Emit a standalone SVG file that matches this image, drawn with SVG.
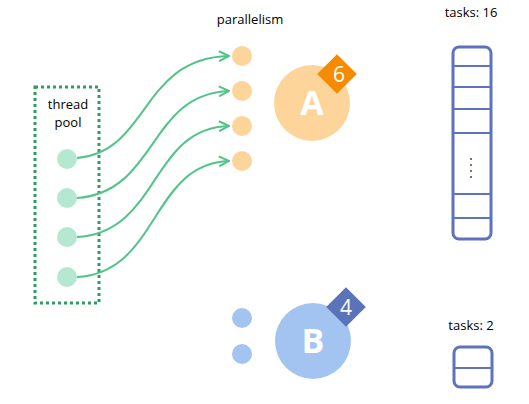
<svg xmlns="http://www.w3.org/2000/svg" width="529" height="404" viewBox="0 0 529 404">
<style>
.lbl{font-family:"Open Sans","Noto Sans",sans-serif;font-size:13px;fill:#000;text-anchor:middle}
.th{fill:#b5e8d0}
.par{fill:#fdd49a}
.parb{fill:#a3c4f0}
.conn{fill:none;stroke:#52c48a;stroke-width:2}
.big{font-family:"Open Sans","Noto Sans",sans-serif;font-weight:bold;font-size:34px;fill:#fff;text-anchor:middle}
.num{font-family:"Open Sans","Noto Sans",sans-serif;font-size:21px;fill:#fff;text-anchor:middle}
.box{fill:#fff;stroke:#5f72bd;stroke-width:3}
.row{stroke:#5f72bd;stroke-width:2}
</style>
<defs>
<marker id="arr" viewBox="0 0 12 12" refX="11" refY="6" markerWidth="12" markerHeight="12" markerUnits="userSpaceOnUse" orient="auto">
<path d="M1,1 L11,6 L1,11" fill="none" stroke="#52c48a" stroke-width="2"/>
</marker>
</defs>
<g id="pool">
<rect x="35" y="87" width="64" height="216" fill="none" stroke="#2e9e60" stroke-width="3" stroke-dasharray="3,3"/>
<text class="lbl" x="68" y="109">thread</text>
<text class="lbl" x="68" y="127">pool</text>
</g>
<g id="t1"><circle class="th" cx="67" cy="159" r="10"/></g>
<g id="t2"><circle class="th" cx="67" cy="198" r="10"/></g>
<g id="t3"><circle class="th" cx="67" cy="237" r="10"/></g>
<g id="t4"><circle class="th" cx="67" cy="277" r="10"/></g>
<g id="parallelism"><text class="lbl" x="250" y="24">parallelism</text></g>
<g id="p1"><circle class="par" cx="242" cy="56" r="10"/></g>
<g id="p2"><circle class="par" cx="242" cy="91" r="10"/></g>
<g id="p3"><circle class="par" cx="242" cy="126" r="10"/></g>
<g id="p4"><circle class="par" cx="242" cy="161" r="10"/></g>
<g id="A">
<circle cx="312" cy="103" r="38" fill="#fdd49a"/>
<text class="big" x="312" y="115">A</text>
<rect x="323" y="60" width="28" height="28" fill="#f58b00" transform="rotate(45 337 74)"/>
<text class="num" x="339" y="82">6</text>
</g>
<g id="pb1"><circle class="parb" cx="242" cy="318" r="10"/></g>
<g id="pb2"><circle class="parb" cx="242" cy="354" r="10"/></g>
<g id="B">
<circle cx="313" cy="341" r="38" fill="#a3c4f0"/>
<text class="big" x="313" y="353">B</text>
<rect x="332" y="293" width="28" height="28" fill="#5b73b8" transform="rotate(45 346 307)"/>
<text class="num" x="346" y="315">4</text>
</g>
<g id="queueA">
<text class="lbl" x="471" y="17">tasks: 16</text>
<rect class="box" x="453" y="47" width="38" height="192" rx="6"/>
<line class="row" x1="453" y1="66" x2="491" y2="66"/>
<line class="row" x1="453" y1="87" x2="491" y2="87"/>
<line class="row" x1="453" y1="109" x2="491" y2="109"/>
<line class="row" x1="453" y1="133" x2="491" y2="133"/>
<line class="row" x1="453" y1="194" x2="491" y2="194"/>
<line class="row" x1="453" y1="218" x2="491" y2="218"/>
<g fill="#6b3a2a">
<circle cx="471" cy="159" r="1"/>
<circle cx="471" cy="165" r="1"/>
<circle cx="471" cy="171" r="1"/>
<circle cx="471" cy="177" r="1"/>
</g>
</g>
<g id="queueB">
<text class="lbl" x="471" y="330">tasks: 2</text>
<rect class="box" x="454" y="347" width="38" height="40" rx="6"/>
<line class="row" x1="454" y1="368" x2="492" y2="368"/>
</g>
<g id="connectors">
<path class="conn" marker-end="url(#arr)" d="M77,158 C150,152 140,58 229,56"/>
<path class="conn" marker-end="url(#arr)" d="M77,198 C158,192 148,94 229,91"/>
<path class="conn" marker-end="url(#arr)" d="M77,237 C160,232 150,128 229,126"/>
<path class="conn" marker-end="url(#arr)" d="M77,277 C160,272 150,164 229,161"/>
</g>
</svg>
